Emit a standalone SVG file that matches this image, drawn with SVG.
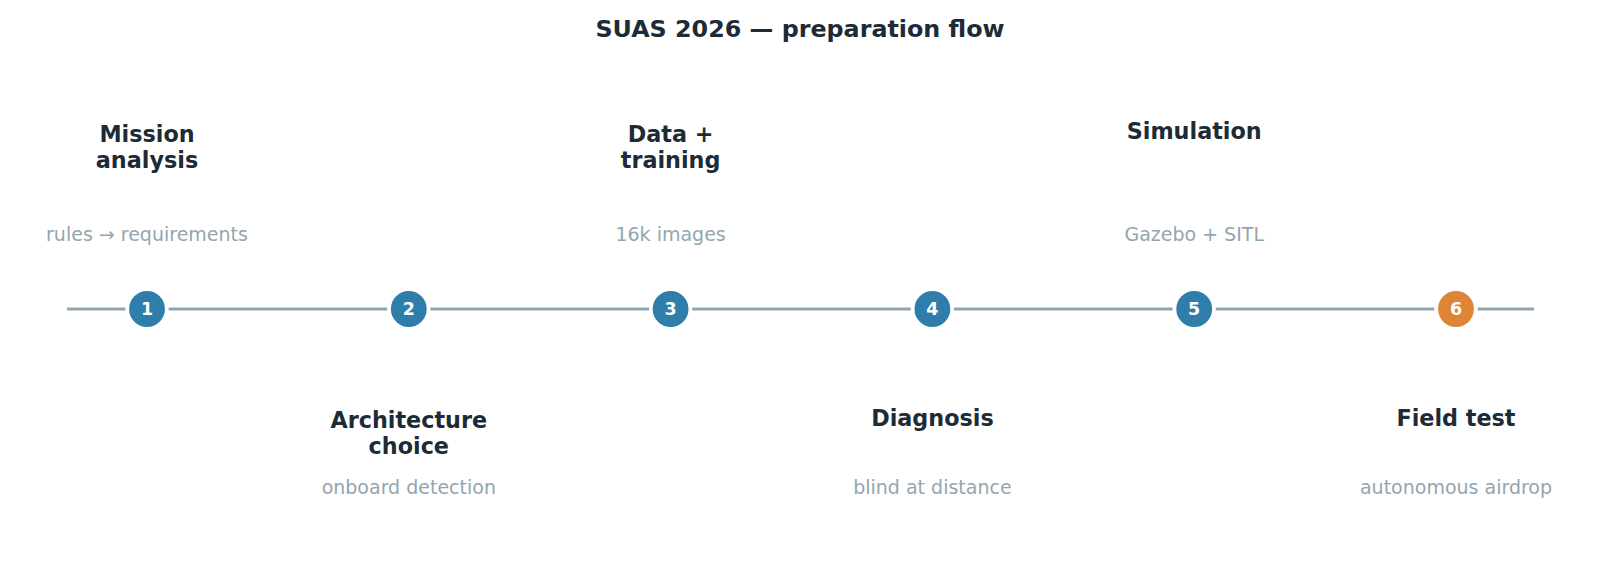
<svg xmlns="http://www.w3.org/2000/svg" width="1600" height="576" viewBox="0 0 1600 576">
<style>
.bg{fill:#ffffff}
.title{font-family:"DejaVu Sans",sans-serif;font-weight:bold;font-size:23.8px;fill:#1d2b36;text-anchor:middle}
.lbl{font-family:"DejaVu Sans",sans-serif;font-weight:bold;font-size:22.3px;fill:#1d2b36;text-anchor:middle}
.sub{font-family:"DejaVu Sans",sans-serif;font-size:19px;fill:#93a5af;text-anchor:middle}
.num{font-family:"DejaVu Sans",sans-serif;font-weight:bold;font-size:17.5px;fill:#ffffff;text-anchor:middle}
.dot{stroke:#ffffff;stroke-width:3.8}
.blue{fill:#2e7dab}
.orange{fill:#dd8436}
.axis{stroke:#90a4ae;stroke-width:3;fill:none}
</style>
<rect class="bg" x="0" y="0" width="1600" height="576"/>
<text class="title" x="800" y="37">SUAS 2026 — preparation flow</text>
<g id="connectors">
<line class="axis" x1="67" y1="309" x2="1534" y2="309"/>
</g>
<g id="step1">
<circle class="dot blue" cx="147" cy="309" r="19.8"/>
<text class="num" x="147" y="315.3">1</text>
<text class="lbl" x="147" y="141.7">Mission</text>
<text class="lbl" x="147" y="168.3">analysis</text>
<text class="sub" x="147" y="241.2">rules → requirements</text>
</g>
<g id="step2">
<circle class="dot blue" cx="408.8" cy="309" r="19.8"/>
<text class="num" x="408.8" y="315.3">2</text>
<text class="lbl" x="408.8" y="427.7">Architecture</text>
<text class="lbl" x="408.8" y="453.8">choice</text>
<text class="sub" x="408.8" y="493.8">onboard detection</text>
</g>
<g id="step3">
<circle class="dot blue" cx="670.6" cy="309" r="19.8"/>
<text class="num" x="670.6" y="315.3">3</text>
<text class="lbl" x="670.6" y="141.7">Data +</text>
<text class="lbl" x="670.6" y="168.3">training</text>
<text class="sub" x="670.6" y="241.2">16k images</text>
</g>
<g id="step4">
<circle class="dot blue" cx="932.4" cy="309" r="19.8"/>
<text class="num" x="932.4" y="315.3">4</text>
<text class="lbl" x="932.4" y="425.7">Diagnosis</text>
<text class="sub" x="932.4" y="493.8">blind at distance</text>
</g>
<g id="step5">
<circle class="dot blue" cx="1194.2" cy="309" r="19.8"/>
<text class="num" x="1194.2" y="315.3">5</text>
<text class="lbl" x="1194.2" y="139">Simulation</text>
<text class="sub" x="1194.2" y="241.2">Gazebo + SITL</text>
</g>
<g id="step6">
<circle class="dot orange" cx="1456" cy="309" r="19.8"/>
<text class="num" x="1456" y="315.3">6</text>
<text class="lbl" x="1456" y="425.7">Field test</text>
<text class="sub" x="1456" y="493.8">autonomous airdrop</text>
</g>
</svg>
